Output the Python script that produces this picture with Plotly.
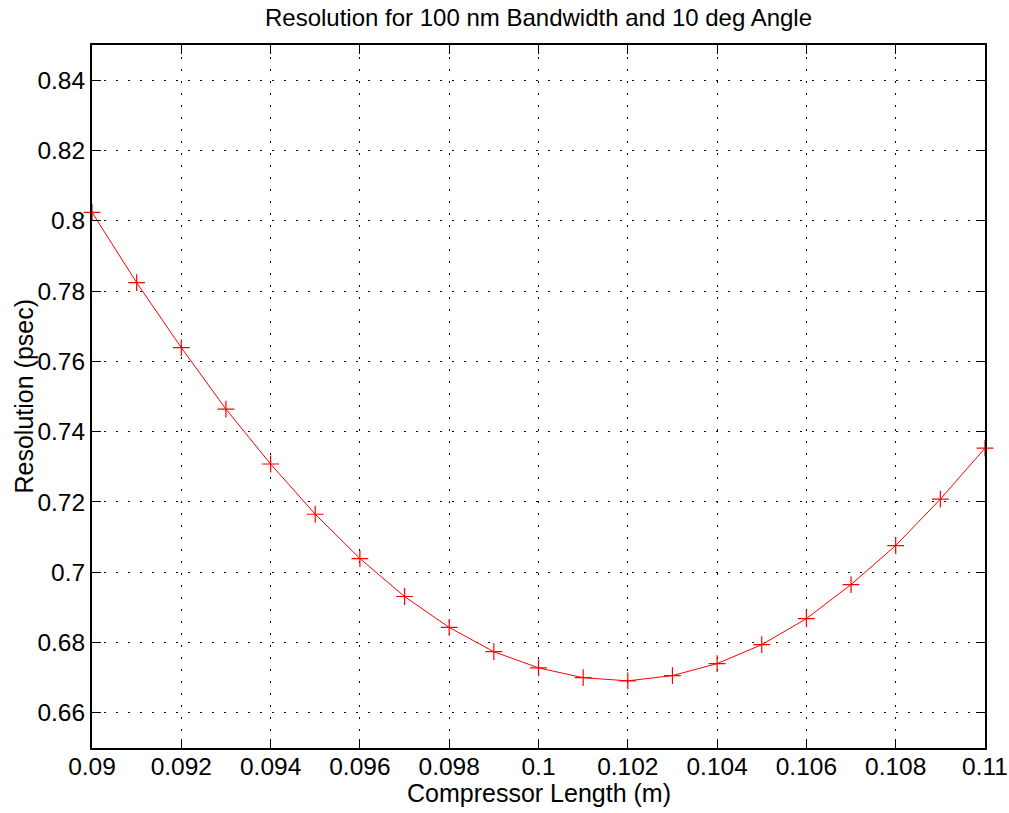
import plotly.graph_objects as go

compressor_length = [0.090, 0.091, 0.092, 0.093, 0.094, 0.095, 0.096, 0.097, 0.098, 0.099,
                     0.100, 0.101, 0.102, 0.103, 0.104, 0.105, 0.106, 0.107, 0.108, 0.109, 0.110]
resolution = [0.8024, 0.7824, 0.7639, 0.7464, 0.7308, 0.7165, 0.7039, 0.6931, 0.6843, 0.6774,
              0.6728, 0.6700, 0.6691, 0.6706, 0.6740, 0.6794, 0.6868, 0.6965, 0.7076, 0.7208, 0.7353]

x_tick_vals = [0.090, 0.092, 0.094, 0.096, 0.098, 0.100, 0.102, 0.104, 0.106, 0.108, 0.110]
x_tick_text = ["0.09", "0.092", "0.094", "0.096", "0.098", "0.1", "0.102", "0.104", "0.106", "0.108", "0.11"]
y_tick_vals = [0.66, 0.68, 0.70, 0.72, 0.74, 0.76, 0.78, 0.80, 0.82, 0.84]
y_tick_text = ["0.66", "0.68", "0.7", "0.72", "0.74", "0.76", "0.78", "0.8", "0.82", "0.84"]

FONT = "Liberation Sans, Arial, Helvetica, sans-serif"
W, H = 1009, 813

fig = go.Figure()
fig.add_trace(go.Scatter(
    x=compressor_length, y=resolution, mode="lines+markers",
    line=dict(color="red", width=1),
    marker=dict(symbol="cross-thin", size=12, color="red", line=dict(color="red", width=1.2)),
    cliponaxis=False, showlegend=False,
))

axis_common = dict(
    showline=True, linecolor="black", linewidth=2, mirror="ticks",
    ticks="inside", ticklen=9, tickcolor="black", tickwidth=1,
    showgrid=True, gridcolor="black", griddash="2px,10px", gridwidth=1,
    zeroline=False, automargin=False, ticklabeloverflow="allow",
    tickfont=dict(family=FONT, size=24.5, color="black"),
)

fig.update_layout(
    width=W, height=H,
    margin=dict(l=92, r=24, t=45, b=65),
    paper_bgcolor="white", plot_bgcolor="white",
    title=dict(text="Resolution for 100 nm Bandwidth and 10 deg Angle",
               x=0.5, xref="paper", xanchor="center", y=1 - 17.5 / H, yref="container", yanchor="middle",
               font=dict(family=FONT, size=24, color="black")),
    xaxis=dict(range=[0.09, 0.11], tickvals=x_tick_vals, ticktext=x_tick_text,
               ticklabelstandoff=-4, **axis_common),
    yaxis=dict(range=[0.65, 0.85], tickvals=y_tick_vals, ticktext=y_tick_text, **axis_common),
    annotations=[
        dict(text="Compressor Length (m)", x=0.5, y=0, xref="paper", yref="paper",
             xanchor="center", yanchor="middle", yshift=-45, showarrow=False,
             font=dict(family=FONT, size=25, color="black")),
        dict(text="Resolution (psec)", x=0, y=0.5, xref="paper", yref="paper",
             xanchor="center", yanchor="middle", xshift=-69, textangle=-90, showarrow=False,
             font=dict(family=FONT, size=25, color="black")),
    ],
)

fig.write_html("out.html", config={"displayModeBar": False},
               post_script="document.body.style.margin='0px';")
